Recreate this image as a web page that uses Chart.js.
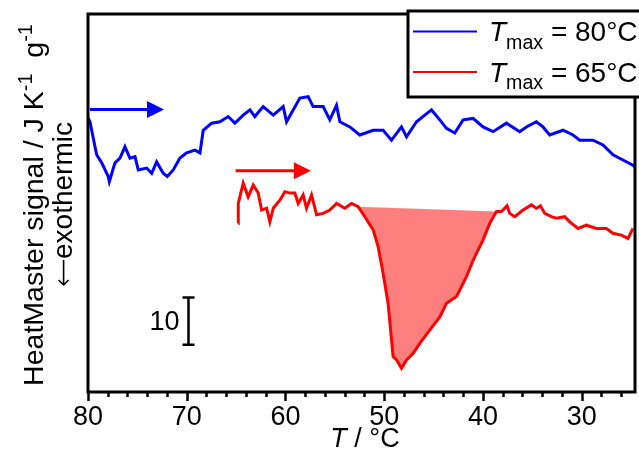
<!DOCTYPE html>
<html>
<head>
<meta charset="utf-8">
<script src="https://cdn.jsdelivr.net/npm/chart.js@4.4.1/dist/chart.umd.min.js"></script>
<style>
  html, body { margin: 0; padding: 0; background: #fff; }
</style>
</head>
<body>
<canvas id="heatChart" width="639" height="459"></canvas>
<script>
// values: temperature in °C, signal in J K-1 g-1 (arbitrary offset)
const blueTemp = [80.0, 79.8, 79.29, 79.12, 78.61, 77.95, 77.84, 77.27, 76.76, 76.26, 75.75, 75.24, 74.91, 74.06,
  73.55, 73.05, 72.38, 71.97, 71.37, 70.69, 70.01, 69.17, 68.66, 68.33, 67.48, 66.64, 65.8, 65.12, 64.28, 63.6,
  63.1, 62.26, 61.24, 60.23, 59.89, 59.22, 58.54, 57.7, 57.2, 56.18, 55.51, 54.83, 54.49, 53.48, 52.47, 51.12,
  50.11, 49.26, 48.25, 47.74, 46.73, 45.89, 45.21, 44.37, 43.69, 42.85, 42.01, 41.0, 39.99, 38.98, 37.62, 36.28,
  35.6, 34.59, 33.92, 33.24, 31.89, 30.88, 30.2, 28.86, 27.84, 26.83, 25.82, 24.81, 24.6];
const blueSignal = [58.0, 57.2, 51.9, 50.2, 48.5, 45.6, 44.5, 48.5, 49.5, 51.9, 49.5, 49.8, 47.0, 47.4,
  46.3, 48.7, 46.3, 45.6, 47.0, 49.5, 50.6, 51.2, 50.6, 55.4, 56.9, 57.2, 58.3, 56.9, 58.6, 59.7,
  58.3, 60.4, 58.6, 60.4, 57.2, 59.7, 62.2, 62.5, 60.4, 60.4, 57.6, 60.7, 57.2, 56.1, 54.4, 55.4,
  55.4, 53.3, 56.1, 54.0, 57.2, 58.6, 59.7, 57.6, 55.8, 54.8, 57.6, 57.9, 56.1, 55.1, 56.9, 55.1,
  56.1, 57.2, 56.1, 54.4, 55.4, 54.4, 53.3, 53.3, 52.3, 50.2, 49.1, 48.0, 47.6];

const redTemp = [64.8, 64.78, 64.28, 63.78, 63.27, 62.76, 62.42, 61.91, 61.58, 61.24, 60.57, 60.06, 59.55, 59.05,
  58.71, 58.21, 57.87, 57.36, 56.85, 56.18, 55.51, 54.83, 53.99, 53.31, 52.64, 51.96, 51.12, 50.62, 50.11, 49.61,
  49.1, 48.75, 48.25, 47.74, 47.07, 46.4, 45.39, 44.37, 43.69, 42.68, 41.67, 40.99, 39.99, 39.31, 38.63, 38.13,
  37.56, 37.29, 36.78, 35.94, 35.09, 34.59, 34.18, 33.74, 33.07, 32.56, 31.72, 31.21, 30.37, 29.52, 28.51, 27.5,
  26.83, 25.98, 25.31, 24.81];
const redSignal = [35.7, 39.9, 44.2, 41.3, 43.8, 42.1, 38.5, 38.9, 36.0, 38.9, 40.6, 42.4, 42.1, 42.1,
  39.9, 41.7, 38.9, 41.7, 37.5, 37.8, 38.5, 39.9, 38.9, 39.9, 39.2, 37.1, 34.3, 30.8, 25.1, 18.8,
  7.5, 6.8, 5.0, 6.8, 8.2, 10.3, 13.1, 15.9, 18.8, 20.2, 24.4, 27.9, 32.2, 35.7, 38.2, 38.2,
  39.4, 37.8, 37.1, 38.5, 39.6, 38.9, 39.4, 37.8, 37.1, 36.8, 37.1, 36.0, 34.6, 35.3, 34.6, 34.6,
  33.6, 33.2, 32.5, 34.6];

// integrated crystallisation peak (straight baseline between these temperatures)
const peakFrom = 52.64;
const peakTo = 38.63;

const xTickVals = [80, 70, 60, 50, 40, 30];
const minorStep = 2;
const legendTemps = ['80°C', '65°C'];

// annotations: heating direction arrows and the 10 J K-1 g-1 scale bar
const blueArrow = { from: 79.8, to: 72.3, y: 59.8 };
const redArrow = { from: 65.05, to: 57.43, y: 46.8 };
const scaleBar = { t: 69.9, from: 10, to: 20, label: '10' };

const FONT = '"Liberation Sans", Arial, sans-serif';

const toPts = (xs, ys) => xs.map((x, i) => ({ x: x, y: ys[i] }));
const redPts = toPts(redTemp, redSignal);
const peakPts = redPts.filter(p => p.x <= peakFrom && p.x >= peakTo);

function richWidth(ctx, runs, size) {
    let w = 0;
    runs.forEach(r => {
        if (r.arrow) { w += r.arrow; return; }
        const s = (r.sup || r.sub) ? size * 0.7 : size;
        ctx.font = (r.italic ? 'italic ' : '') + s + 'px ' + FONT;
        w += ctx.measureText(r.t).width;
    });
    return w;
}

function drawRich(ctx, runs, x, y, size) {
    ctx.textBaseline = 'alphabetic';
    ctx.textAlign = 'left';
    runs.forEach(r => {
        if (r.arrow) {
            // thin left-pointing arrow, like the symbol-font glyph
            const ay = y - size * 0.3;
            ctx.save();
            ctx.strokeStyle = ctx.fillStyle;
            ctx.lineWidth = 1.6;
            ctx.beginPath();
            ctx.moveTo(x + 1, ay);
            ctx.lineTo(x + r.arrow - 1, ay);
            ctx.moveTo(x + 6, ay - 5);
            ctx.lineTo(x + 1, ay);
            ctx.lineTo(x + 6, ay + 5);
            ctx.stroke();
            ctx.restore();
            x += r.arrow;
            return;
        }
        const s = (r.sup || r.sub) ? size * 0.7 : size;
        ctx.font = (r.italic ? 'italic ' : '') + s + 'px ' + FONT;
        let dy = 0;
        if (r.sup) dy = -size * 0.38;
        if (r.sub) dy = size * 0.27;
        ctx.fillText(r.t, x, y + dy);
        x += ctx.measureText(r.t).width;
    });
}

function drawArrow(ctx, x1, x2, y, color) {
    ctx.strokeStyle = color;
    ctx.fillStyle = color;
    ctx.lineWidth = 3;
    ctx.beginPath();
    ctx.moveTo(x1, y);
    ctx.lineTo(x2 - 16, y);
    ctx.stroke();
    ctx.beginPath();
    ctx.moveTo(x2, y);
    ctx.lineTo(x2 - 17, y - 8.5);
    ctx.lineTo(x2 - 17, y + 8.5);
    ctx.closePath();
    ctx.fill();
}

const decor = {
    id: 'decor',
    afterDatasetsDraw(chart) {
        const ctx = chart.ctx;
        const a = chart.chartArea;
        const xs = chart.scales.x;
        const ys = chart.scales.y;
        ctx.save();

        // frame
        ctx.strokeStyle = '#000';
        ctx.lineWidth = 3;
        ctx.strokeRect(a.left, a.top, a.right - a.left, a.bottom - a.top);

        // outward ticks on the T axis
        ctx.lineWidth = 2.5;
        for (let v = 80; v >= xs.min; v -= minorStep) {
            const px = Math.round(xs.getPixelForValue(v)) + 0.5;
            const len = (v % 10 === 0) ? 9 : 5;
            ctx.beginPath();
            ctx.moveTo(px, a.bottom);
            ctx.lineTo(px, a.bottom + len);
            ctx.stroke();
        }

        // arrows
        drawArrow(ctx, xs.getPixelForValue(blueArrow.from), xs.getPixelForValue(blueArrow.to),
            ys.getPixelForValue(blueArrow.y), '#0000ff');
        drawArrow(ctx, xs.getPixelForValue(redArrow.from), xs.getPixelForValue(redArrow.to),
            ys.getPixelForValue(redArrow.y), '#ff0000');

        // scale bar
        const bx = Math.round(xs.getPixelForValue(scaleBar.t)) + 0.5;
        const by1 = ys.getPixelForValue(scaleBar.from);
        const by2 = ys.getPixelForValue(scaleBar.to);
        ctx.strokeStyle = '#000';
        ctx.lineWidth = 2.5;
        ctx.beginPath();
        ctx.moveTo(bx, by1); ctx.lineTo(bx, by2);
        ctx.moveTo(bx - 6, by1); ctx.lineTo(bx + 6, by1);
        ctx.moveTo(bx - 6, by2); ctx.lineTo(bx + 6, by2);
        ctx.stroke();
        ctx.fillStyle = '#000';
        ctx.font = '27px ' + FONT;
        ctx.textAlign = 'right';
        ctx.textBaseline = 'middle';
        ctx.fillText(scaleBar.label, bx - 9, (by1 + by2) / 2 + 1);

        // legend box
        ctx.fillStyle = '#fff';
        ctx.fillRect(408, 11, 231, 86);
        ctx.strokeStyle = '#000';
        ctx.lineWidth = 3;
        ctx.strokeRect(408, 11, 240, 86);
        const rows = [{ c: '#0000ff', y: 31.5 }, { c: '#ff0000', y: 72 }];
        rows.forEach((r, i) => {
            ctx.strokeStyle = r.c;
            ctx.lineWidth = 2;
            ctx.beginPath();
            ctx.moveTo(413, r.y);
            ctx.lineTo(477, r.y);
            ctx.stroke();
            ctx.fillStyle = '#000';
            drawRich(ctx, [{ t: 'T', italic: true }, { t: 'max', sub: true }, { t: ' = ' + legendTemps[i] }],
                489, r.y + 9.5, 28);
        });

        // axis titles
        ctx.fillStyle = '#000';
        const xt = [{ t: 'T', italic: true }, { t: ' / °C' }];
        drawRich(ctx, xt, 365 - richWidth(ctx, xt, 27) / 2, 447, 27);

        const yt = [{ t: 'HeatMaster signal / J K' }, { t: '-1', sup: true }, { t: '  g' }, { t: '-1', sup: true }];
        ctx.save();
        ctx.translate(43, 205);
        ctx.rotate(-Math.PI / 2);
        drawRich(ctx, yt, -richWidth(ctx, yt, 28.5) / 2, 0, 28.5);
        ctx.restore();

        const yt2 = [{ arrow: 27 }, { t: 'exothermic' }];
        ctx.save();
        ctx.translate(72, 204);
        ctx.rotate(-Math.PI / 2);
        drawRich(ctx, yt2, -richWidth(ctx, yt2, 28) / 2, 0, 28);
        ctx.restore();

        ctx.restore();
    }
};

const ctx = document.getElementById('heatChart').getContext('2d');
const heatChart = new Chart(ctx, {
    type: 'scatter',
    data: {
        datasets: [{
            label: 'Tmax = 80°C',
            data: toPts(blueTemp, blueSignal),
            showLine: true,
            borderColor: '#0000ff',
            borderWidth: 3,
            pointRadius: 0,
            tension: 0,
            order: 1
        }, {
            label: 'Tmax = 65°C',
            data: redPts,
            showLine: true,
            borderColor: '#ff0000',
            borderWidth: 3,
            pointRadius: 0,
            tension: 0,
            order: 2
        }, {
            label: 'peak area',
            data: peakPts,
            showLine: true,
            borderWidth: 0,
            borderColor: 'rgba(0,0,0,0)',
            backgroundColor: 'rgba(255, 0, 0, 0.5)',
            fill: 'shape',
            pointRadius: 0,
            order: 3
        }]
    },
    options: {
        responsive: false,
        animation: false,
        devicePixelRatio: 1,
        layout: {
            padding: { left: 88, right: 4, top: 14, bottom: 0 }
        },
        scales: {
            x: {
                type: 'linear',
                reverse: true,
                min: 24.6,
                max: 80,
                afterBuildTicks: s => { s.ticks = xTickVals.map(v => ({ value: v })); },
                afterFit: s => { s.height = 67; },
                grid: { display: false, drawTicks: false },
                border: { display: false },
                ticks: {
                    color: '#000',
                    padding: 9,
                    maxRotation: 0,
                    font: { family: 'Liberation Sans', size: 27 }
                }
            },
            y: {
                display: false,
                min: 0,
                max: 80
            }
        },
        plugins: {
            legend: { display: false },
            tooltip: { enabled: false }
        }
    },
    plugins: [decor]
});
</script>
</body>
</html>
